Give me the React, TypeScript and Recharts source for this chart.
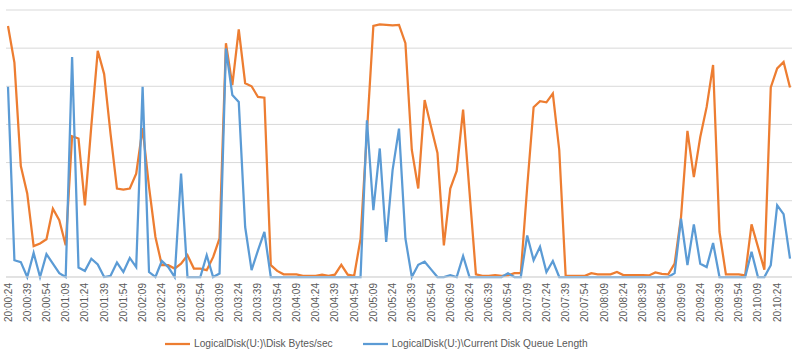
import React from 'react';
import { LineChart, Line, XAxis, YAxis, CartesianGrid, Legend } from 'recharts';

// Values, in gridline units (the chart has no value axis)
const diskBytesPerSec = [
  6.58, 5.62, 2.91, 2.19, 0.81, 0.88, 0.99, 1.79, 1.49, 0.83,
  3.69, 3.63, 1.88, 3.96, 5.93, 5.32, 3.75, 2.32, 2.29, 2.32,
  2.71, 3.9, 2.36, 1.05, 0.31, 0.31, 0.22, 0.35, 0.57, 0.22,
  0.22, 0.18, 0.52, 1.01, 6.13, 5.03, 6.49, 5.08, 5.0, 4.72,
  4.7, 0.31, 0.16, 0.07, 0.07, 0.07, 0.03, 0.03, 0.03, 0.06,
  0.03, 0.06, 0.32, 0.06, 0.03, 1.0, 3.8, 6.58, 6.62, 6.61,
  6.6, 6.61, 6.13, 3.33, 2.32, 4.64, 3.94, 3.25, 0.83, 2.32,
  2.78, 4.39, 2.23, 0.07, 0.03, 0.03, 0.05, 0.03, 0.04, 0.1,
  0.1, 2.36, 4.45, 4.61, 4.58, 4.81, 3.33, 0.03, 0.03, 0.03,
  0.03, 0.1, 0.07, 0.07, 0.07, 0.13, 0.05, 0.05, 0.05, 0.05,
  0.04, 0.12, 0.08, 0.07, 0.35, 1.57, 3.83, 2.62, 3.67, 4.46,
  5.56, 1.18, 0.07, 0.07, 0.07, 0.04, 1.38, 0.79, 0.19, 4.97,
  5.47, 5.64, 4.97,
];

const diskQueueLength = [
  4.99, 0.44, 0.39, 0, 0.63, 0, 0.6, 0.35, 0.1, 0,
  5.77, 0.25, 0.16, 0.48, 0.33, 0, 0.03, 0.38, 0.13, 0.5,
  0.26, 4.99, 0.13, 0, 0.42, 0.26, 0, 2.71, 0, 0,
  0, 0.57, 0, 0.09, 5.99, 4.77, 4.59, 1.31, 0.18, 0.7,
  1.18, 0, 0, 0, 0, 0, 0, 0, 0, 0,
  0, 0, 0, 0, 0, 0, 4.11, 1.75, 3.37, 0.92,
  2.8, 3.89, 1.01, 0, 0.32, 0.4, 0.2, 0, 0, 0.05,
  0, 0.55, 0, 0, 0, 0, 0, 0, 0.1, 0,
  0, 1.09, 0.44, 0.79, 0.13, 0.42, 0, 0, 0, 0,
  0, 0, 0, 0, 0, 0, 0, 0, 0, 0,
  0, 0, 0, 0, 0.1, 1.53, 0.31, 1.38, 0.35, 0.26,
  0.89, 0, 0, 0, 0, 0, 0.66, 0, 0, 0.31,
  1.88, 1.65, 0.48,
];

const seriesNames = ['LogicalDisk(U:)\\Disk Bytes/sec', 'LogicalDisk(U:)\\Current Disk Queue Length'];
const seriesColors = ['#ED7D31', '#5B9BD5'];
const gridTicks = [0, 1, 2, 3, 4, 5, 6, 7];

// samples every 5 seconds starting at 20:00:24
const startSeconds = 20 * 3600 + 24;
const pad = (n: number) => String(n).padStart(2, '0');
const timeLabel = (s: number) =>
  `${pad(Math.floor(s / 3600))}:${pad(Math.floor((s % 3600) / 60))}:${pad(s % 60)}`;

const data = diskBytesPerSec.map((v, i) => ({
  time: timeLabel(startSeconds + i * 5),
  bytes: v,
  queue: diskQueueLength[i],
}));

const TimeTick = (props: any) => {
  const { x, y, payload } = props;
  return (
    <text
      x={x}
      y={y}
      transform={`rotate(-90 ${x} ${y})`}
      textAnchor="end"
      dominantBaseline="central"
      fill="#595959"
      fontSize={10}
      fontFamily="Liberation Sans, Arial, sans-serif"
    >
      {payload.value}
    </text>
  );
};

const renderLegend = () => (
  <div
    style={{
      display: 'flex',
      alignItems: 'center',
      height: 21,
      paddingLeft: 159,
      fontFamily: 'Liberation Sans, Arial, sans-serif',
      fontSize: 10.2,
      color: '#595959',
      whiteSpace: 'nowrap',
    }}
  >
    {seriesNames.map((name, i) => (
      <div key={name} style={{ display: 'flex', alignItems: 'center', marginRight: 30 }}>
        <svg width={25} height={6} style={{ marginRight: 4 }}>
          <line x1={0} y1={3} x2={25} y2={3} stroke={seriesColors[i]} strokeWidth={2.25} />
        </svg>
        <span>{name}</span>
      </div>
    ))}
  </div>
);

export default function App() {
  return (
    <div style={{ position: 'absolute', left: 0, top: 0, width: 800, height: 354, background: '#fff' }}>
      <LineChart
        width={800}
        height={354}
        data={data}
        margin={{ top: 10, right: 8, left: 6, bottom: 0 }}
      >
        <CartesianGrid vertical={false} stroke="#d9d9d9" strokeWidth={1} />
        <XAxis
          dataKey="time"
          interval={2}
          height={56}
          tickLine={false}
          tickSize={0}
          tickMargin={6}
          axisLine={{ stroke: '#d9d9d9' }}
          padding={{ left: 2, right: 2 }}
          tick={<TimeTick />}
        />
        <YAxis hide domain={[0, 7]} ticks={gridTicks} />
        <Legend verticalAlign="bottom" height={21} content={renderLegend} />
        <Line
          dataKey="bytes"
          name={seriesNames[0]}
          stroke={seriesColors[0]}
          strokeWidth={2.25}
          dot={false}
          activeDot={false}
          isAnimationActive={false}
        />
        <Line
          dataKey="queue"
          name={seriesNames[1]}
          stroke={seriesColors[1]}
          strokeWidth={2.25}
          dot={false}
          activeDot={false}
          isAnimationActive={false}
        />
      </LineChart>
    </div>
  );
}
